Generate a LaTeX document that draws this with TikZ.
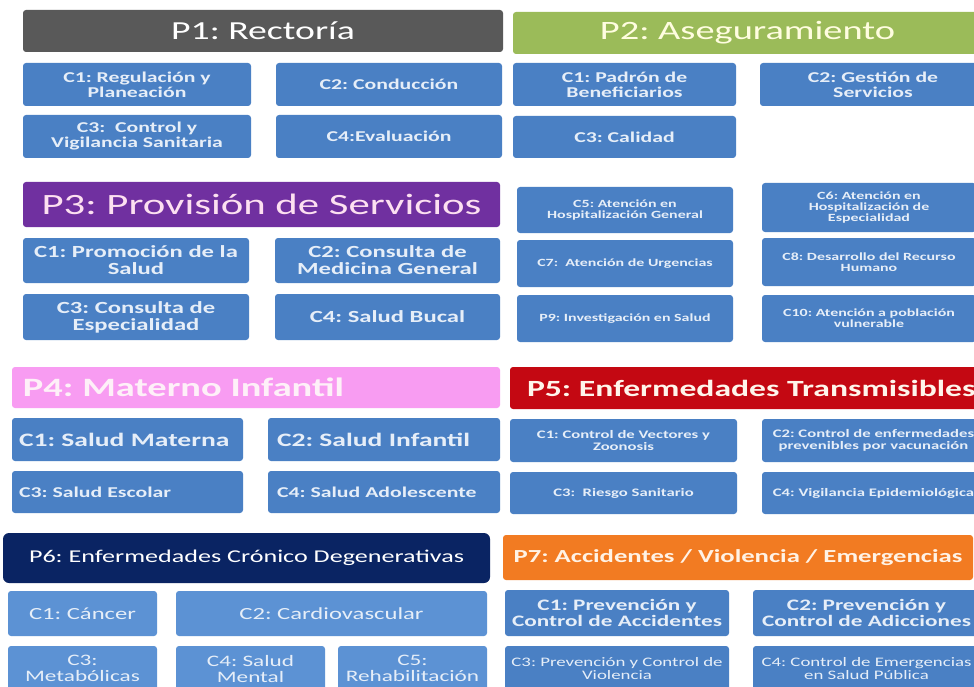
\documentclass[tikz,border=0pt]{standalone}
\usepackage{fontspec}
\setmainfont{Carlito}[FakeStretch=1.45]
\frenchspacing
\definecolor{pone}{HTML}{595959}
\definecolor{ptwo}{HTML}{9BBB59}
\definecolor{pthree}{HTML}{7030A0}
\definecolor{pfour}{HTML}{F89CF2}
\definecolor{pfive}{HTML}{C40812}
\definecolor{psix}{HTML}{0A2463}
\definecolor{pseven}{HTML}{F27B22}
\definecolor{boxblue}{HTML}{4A80C4}
\definecolor{boxlight}{HTML}{5C92D4}
\definecolor{boxtext}{HTML}{E6EEF8}
\newcommand\fs[1]{\fontsize{#1}{#1}\selectfont}
\newcommand\bx[7]{\node[#6, anchor=north west, minimum width={(#4-#2)*1pt}, minimum height={(#5-#3)*1pt}] (#1) at (#2,#3) {#7};}
\begin{document}
\begin{tikzpicture}[x=1pt,y=-1pt,
  hdr/.style={rounded corners=3pt, inner sep=0pt, outer sep=0pt, align=center},
  cbox/.style={fill=boxblue, rounded corners=3pt, inner sep=0pt, outer sep=0pt, align=center, text=boxtext},
  lbox/.style={cbox, fill=boxlight}]
\useasboundingbox (0,0) rectangle (974,687);
\clip (0,0) rectangle (974,687);
\fill[white] (0,0) rectangle (974,687);
% P1
\bx{p1}{23}{10}{503}{52}{hdr, fill=pone, text=white, font=\fs{26}}{P1: Rectoría}
\bx{p1c1}{23}{63}{251}{106}{cbox, font=\fs{15}\bfseries}{C1: Regulación y\\Planeación}
\bx{p1c2}{276}{63}{502}{106}{cbox, font=\fs{15}\bfseries}{C2: Conducción}
\bx{p1c3}{23}{115}{251}{158}{cbox, font=\fs{15}\bfseries}{C3:\ \ Control y\\Vigilancia Sanitaria}
\bx{p1c4}{276}{115}{502}{158}{cbox, font=\fs{15}\bfseries}{C4:Evaluación}
% P2
\bx{p2}{513}{12}{982}{54}{hdr, fill=ptwo, text=white!88!yellow, font=\fs{26.5}}{P2: Aseguramiento}
\bx{p2c1}{513}{63}{736}{106}{cbox, font=\fs{15}\bfseries}{C1: Padrón de\\Beneficiarios}
\bx{p2c2}{760}{63}{986}{106}{cbox, font=\fs{15}\bfseries}{C2: Gestión de\\Servicios}
\bx{p2c3}{513}{116}{736}{158}{cbox, font=\fs{15}\bfseries}{C3: Calidad}
% P3
\bx{p3}{23}{182}{500}{227}{hdr, fill=pthree, text=white!88!magenta, font=\fs{29.5}}{P3: Provisión de Servicios}
\bx{p3c1}{23}{238}{249}{283}{cbox, font=\fs{17}\bfseries}{C1: Promoción de la\\Salud}
\bx{p3c2}{275}{238}{500}{283}{cbox, font=\fs{17}\bfseries}{C2: Consulta de\\Medicina General}
\bx{p3c3}{23}{294}{249}{340}{cbox, font=\fs{17}\bfseries}{C3: Consulta de\\Especialidad}
\bx{p3c4}{275}{294}{500}{340}{cbox, font=\fs{17}\bfseries}{C4: Salud Bucal}
\bx{p3c5}{517}{187}{733}{233}{cbox, font=\fs{11}\bfseries}{C5: Atención en\\Hospitalización General}
\bx{p3c6}{762}{183}{976}{232}{cbox, font=\fs{11}\bfseries}{C6: Atención en\\Hospitalización de\\Especialidad}
\bx{p3c7}{517}{240}{733}{287}{cbox, font=\fs{11}\bfseries}{C7:\ \ Atención de Urgencias}
\bx{p3c8}{762}{238}{976}{286}{cbox, font=\fs{11}\bfseries}{C8: Desarrollo del Recurso\\Humano}
\bx{p3c9}{517}{295}{733}{342}{cbox, font=\fs{11}\bfseries}{P9: Investigación en Salud}
\bx{p3c10}{762}{295}{976}{342}{cbox, font=\fs{11}\bfseries}{C10: Atención a población\\vulnerable}
% P4
\bx{p4}{12}{367}{500}{408}{hdr, fill=pfour, text=white!94!magenta, font=\fs{26.5}\bfseries, align=left, inner xsep=11pt, text width=466pt}{P4: Materno Infantil}
\bx{p4c1}{12}{418}{243}{461}{cbox, font=\fs{19}\bfseries, align=left, inner xsep=7pt, text width=217pt}{C1: Salud Materna}
\bx{p4c2}{268}{418}{500}{461}{cbox, font=\fs{19}\bfseries, align=left, inner xsep=9pt, text width=214pt}{C2: Salud Infantil}
\bx{p4c3}{12}{471}{243}{513}{cbox, font=\fs{15}\bfseries, align=left, inner xsep=7pt, text width=217pt}{C3: Salud Escolar}
\bx{p4c4}{268}{471}{500}{513}{cbox, font=\fs{15}\bfseries, align=left, inner xsep=9pt, text width=214pt}{C4: Salud Adolescente}
% P5
\bx{p5}{510}{367}{985}{409}{hdr, fill=pfive, text=white!92!orange, font=\fs{23.2}\bfseries, align=left, inner xsep=17pt, text width=441pt}{\mbox{P5: Enfermedades Transmisibles}}
\bx{p5c1}{510}{419}{737}{462}{cbox, font=\fs{11.5}\bfseries}{C1: Control de Vectores y\\Zoonosis}
\bx{p5c2}{762}{419}{985}{462}{cbox, font=\fs{11.5}\bfseries}{C2: Control de enfermedades\\prevenibles por vacunación}
\bx{p5c3}{510}{472}{737}{514}{cbox, font=\fs{11.5}\bfseries}{C3:\ \ Riesgo Sanitario}
\bx{p5c4}{762}{472}{985}{514}{cbox, font=\fs{11.5}\bfseries}{C4: Vigilancia Epidemiológica}
% P6
\bx{p6}{3}{533}{490}{583}{hdr, rounded corners=6pt, fill=psix, text=white, font=\fs{18}}{P6: Enfermedades Crónico Degenerativas}
\bx{p6c1}{8}{591}{157}{636}{lbox, font=\fs{17}}{C1: Cáncer}
\bx{p6c2}{176}{591}{487}{636}{lbox, font=\fs{17}}{C2: Cardiovascular}
\bx{p6c3}{8}{646}{157}{691}{lbox, font=\fs{16}}{C3:\\Metabólicas}
\bx{p6c4}{176}{646}{325}{691}{lbox, font=\fs{16}}{C4: Salud\\Mental}
\bx{p6c5}{338}{646}{487}{691}{lbox, font=\fs{16}}{C5:\\Rehabilitación}
% P7
\bx{p7}{503}{535}{973}{580}{hdr, fill=pseven, text=white!90!orange, font=\fs{18.4}\bfseries}{P7: Accidentes / Violencia / Emergencias}
\bx{p7c1}{505}{590}{729}{636}{cbox, font=\fs{16}\bfseries}{C1: Prevención y\\Control de Accidentes}
\bx{p7c2}{753}{590}{980}{636}{cbox, font=\fs{16}\bfseries}{C2: Prevención y\\Control de Adicciones}
\bx{p7c3}{505}{646}{729}{691}{cbox, font=\fs{13}}{C3: Prevención y Control de\\Violencia}
\bx{p7c4}{753}{646}{980}{691}{cbox, font=\fs{13}}{C4: Control de Emergencias\\en Salud Pública}
\end{tikzpicture}
\end{document}
